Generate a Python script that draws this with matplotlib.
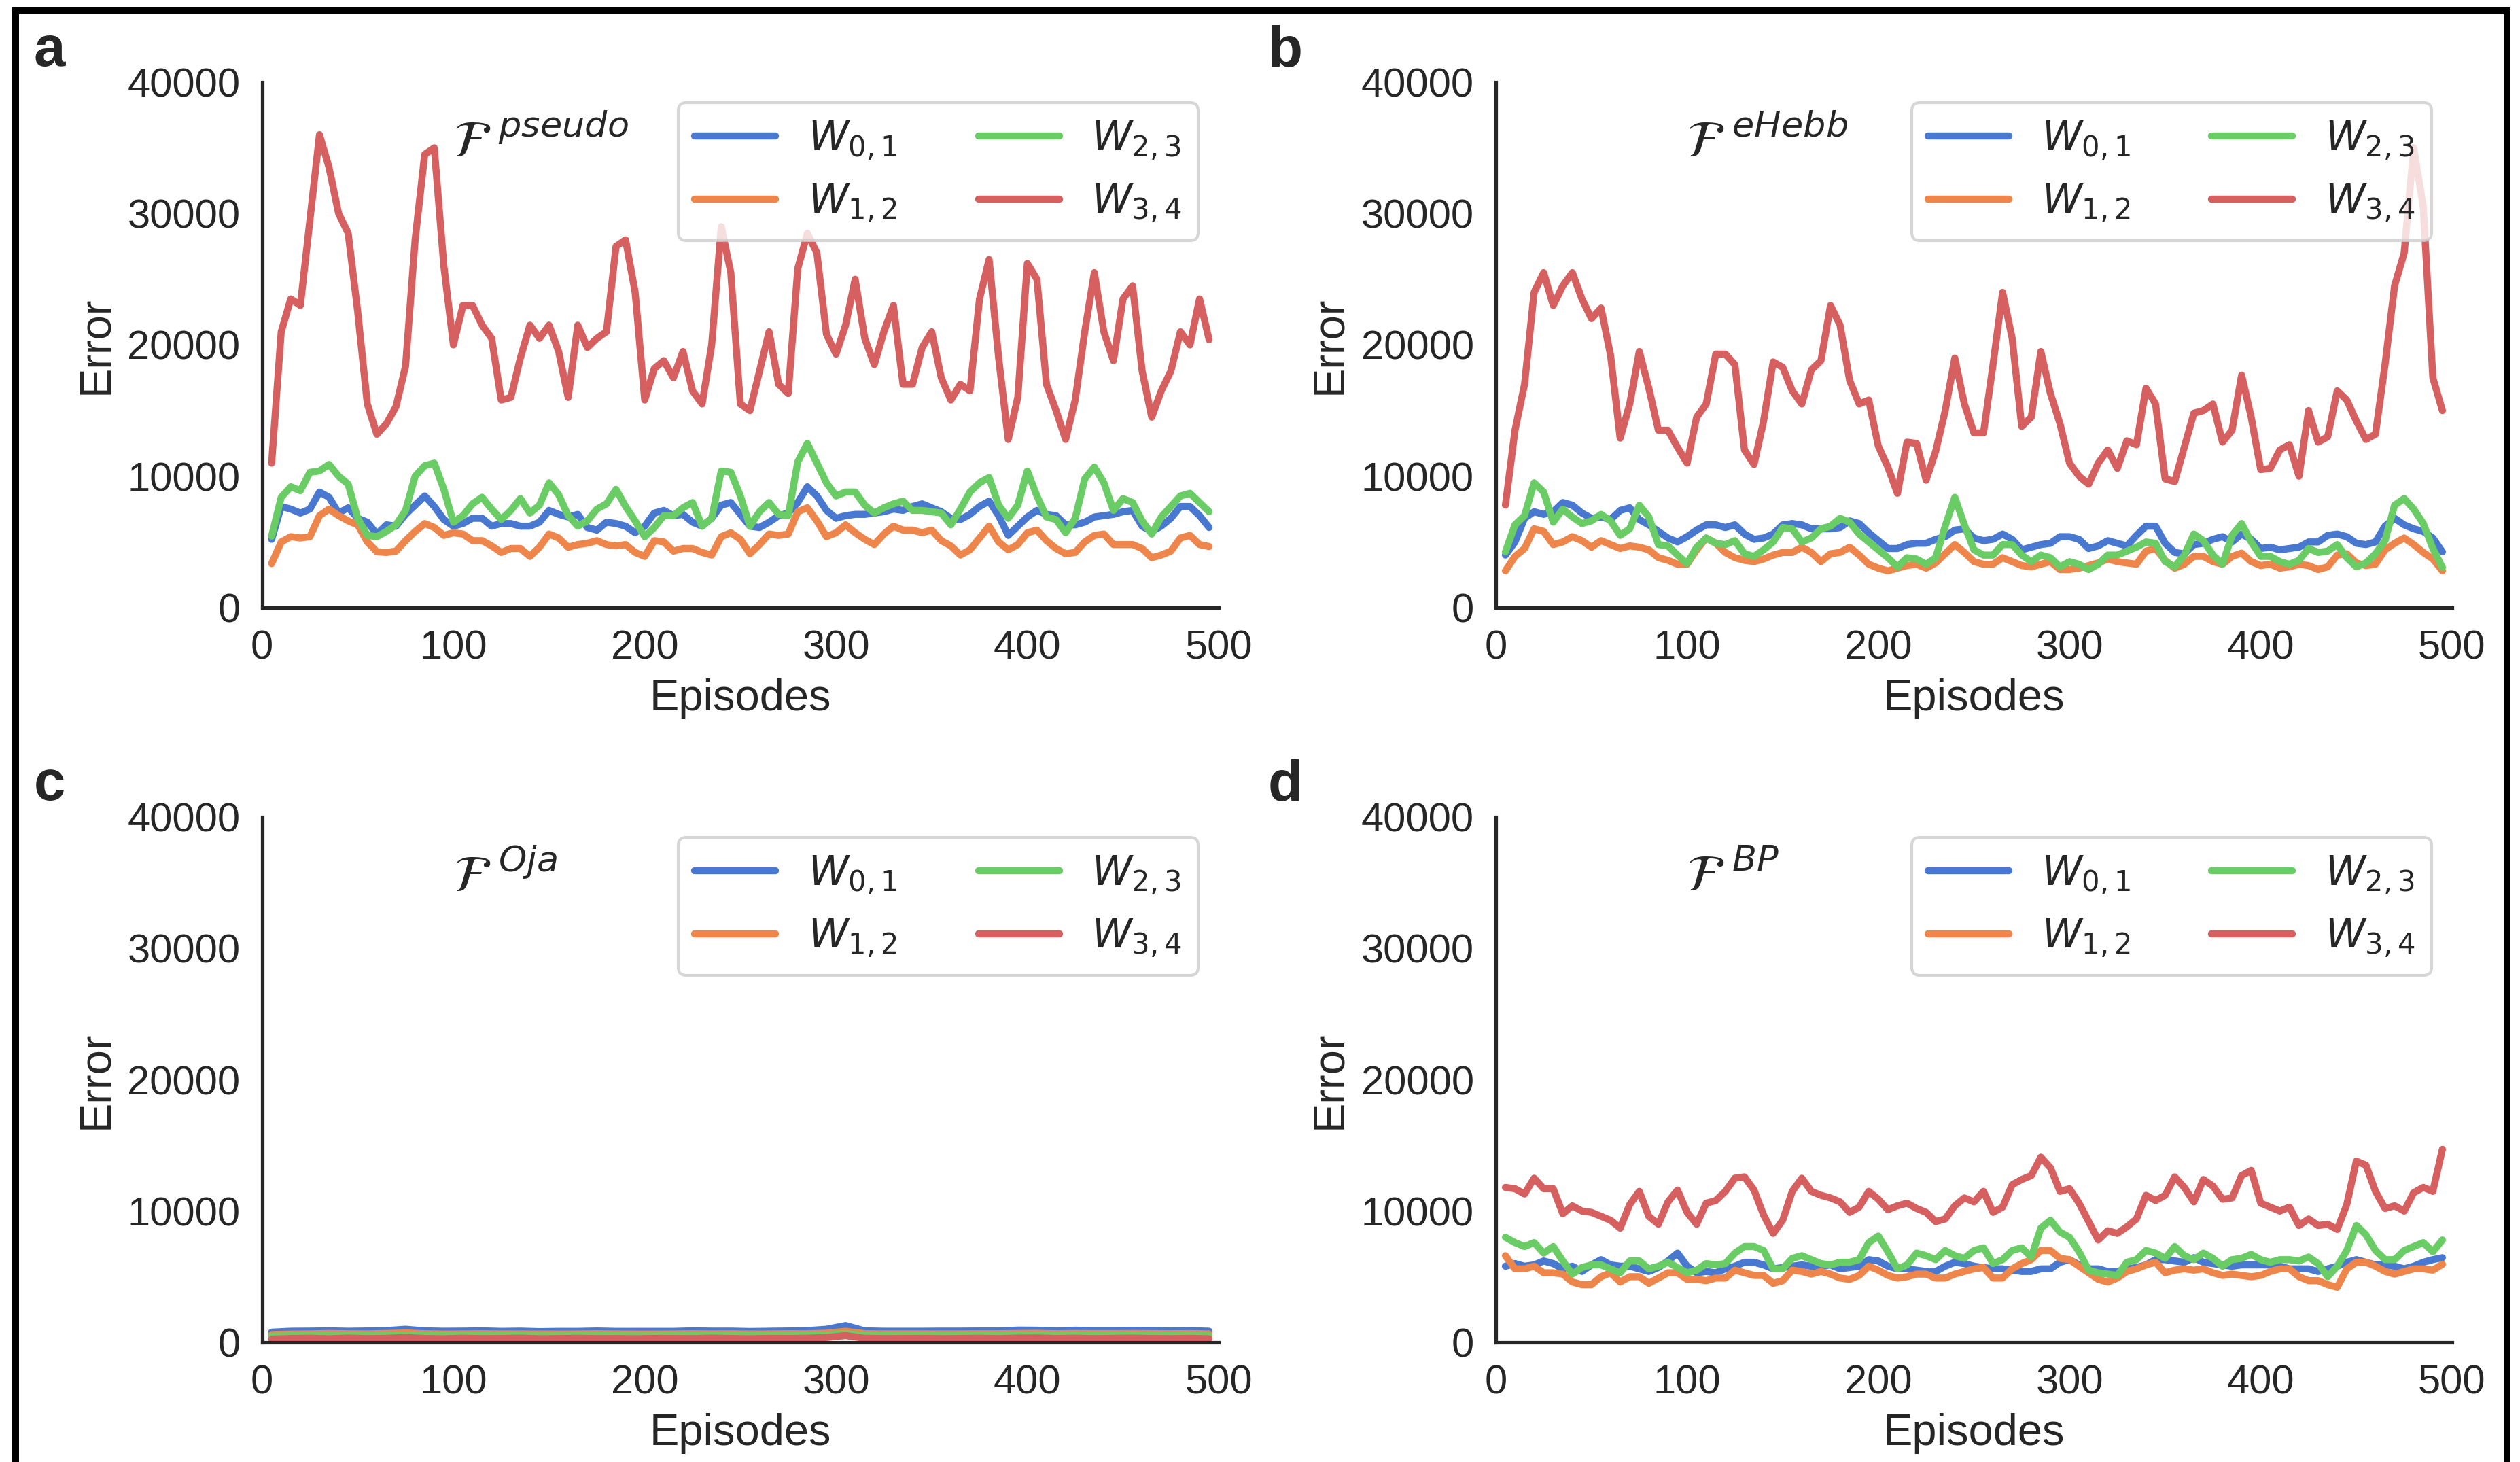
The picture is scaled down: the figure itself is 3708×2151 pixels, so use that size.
import matplotlib.pyplot as plt
import seaborn as sns
from matplotlib.patches import Rectangle

# episodes (moving-average centres)
episodes = list(range(5, 500, 5))
episodes_c = list(range(5, 500, 10))

labels = [r'$W_{0,1}$', r'$W_{1,2}$', r'$W_{2,3}$', r'$W_{3,4}$']

# --- panel a: F^pseudo
blue_a = [5200, 7700, 7500, 7200, 7500, 8800, 8400, 7200, 7600, 6800,
          6500, 5600, 6300, 6200, 7100, 7800, 8500, 7700, 6700, 6200,
          6400, 6800, 6800, 6200, 6400, 6400, 6200, 6200, 6500, 7400,
          7100, 6900, 7100, 6100, 5900, 6500, 6400, 6200, 5700, 6200,
          7200, 7400, 7000, 7100, 6500, 6200, 6800, 7800, 8000, 7100,
          6200, 6100, 6500, 7000, 7200, 8000, 9200, 8500, 7400, 6800,
          7000, 7100, 7100, 7200, 7300, 7500, 7400, 7700, 7900, 7600,
          7300, 6800, 6700, 7100, 7700, 8100, 7000, 5500, 6200, 6900,
          7400, 7100, 7000, 6300, 6300, 6500, 6900, 7000, 7100, 7300,
          7400, 6200, 5800, 6200, 6800, 7700, 7700, 7000, 6100]
orange_a = [3350, 5000, 5400, 5300, 5400, 7000, 7500, 7000, 6600, 6300,
            5000, 4250, 4200, 4300, 5100, 5800, 6400, 6100, 5500, 5700,
            5600, 5100, 5100, 4700, 4200, 4500, 4500, 3900, 4600, 5600,
            5300, 4600, 4800, 4900, 5100, 4800, 4700, 4800, 4200, 3900,
            5100, 5000, 4300, 4500, 4500, 4200, 4000, 5400, 5700, 5200,
            4100, 4800, 5600, 5500, 5600, 7300, 7600, 6600, 5400, 5700,
            6300, 5700, 5200, 4800, 5600, 6200, 5900, 5900, 5700, 5900,
            5100, 4700, 4000, 4400, 5300, 6200, 5000, 4400, 4800, 5700,
            5900, 5100, 4500, 4100, 4200, 5000, 5500, 5600, 4800, 4800,
            4800, 4500, 3800, 4000, 4300, 5300, 5500, 4800, 4650]
green_a = [5450, 8400, 9200, 8900, 10300, 10400, 10900, 10000, 9400, 6800,
           5500, 5400, 5800, 6300, 7400, 10000, 10800, 11000, 9000, 6500,
           7000, 7900, 8400, 7500, 6700, 7400, 8300, 7200, 7800, 9500,
           8600, 7000, 6200, 6600, 7500, 7900, 9000, 7700, 6600, 5400,
           6100, 7000, 7000, 7600, 8000, 6200, 6800, 10400, 10300, 8500,
           6200, 7300, 8000, 7100, 7000, 11100, 12500, 11000, 9500, 8500,
           8800, 8800, 7800, 7200, 7600, 7900, 8100, 7400, 7400, 7300,
           7200, 6300, 7500, 8800, 9500, 9900, 7800, 6800, 7800, 10400,
           8500, 6900, 6700, 5700, 6800, 9800, 10700, 9500, 7400, 8300,
           8000, 6600, 5600, 6900, 7700, 8500, 8700, 8000, 7300]
red_a = [11000, 21000, 23500, 23000, 29500, 36000, 33500, 30000, 28500, 22500,
         15500, 13200, 14000, 15300, 18400, 28000, 34500, 35000, 26000, 20000,
         23000, 23000, 21500, 20500, 15800, 16000, 19000, 21500, 20500, 21500,
         19500, 16000, 21500, 19800, 20500, 21000, 27500, 28000, 24000, 15800,
         18200, 18800, 17500, 19500, 16500, 15500, 20000, 29000, 25500, 15500,
         15000, 18000, 21000, 17000, 16300, 25800, 28500, 27000, 20800, 19300,
         21500, 25000, 20500, 18500, 21000, 23000, 17000, 17000, 19800, 21000,
         17500, 15800, 17000, 16500, 23500, 26500, 19000, 12800, 16000, 26200,
         25000, 17000, 15000, 12800, 15800, 21000, 25500, 21000, 18800, 23500,
         24500, 18000, 14500, 16500, 18000, 21000, 20000, 23500, 20400]

# --- panel b: F^eHebb
blue_b = [4000, 5000, 6800, 7300, 7100, 7300, 8000, 7800, 7200, 6800,
          6900, 6700, 7400, 7600, 6700, 6300, 5800, 5300, 5000, 5400,
          5900, 6300, 6300, 6100, 6300, 5600, 5200, 5300, 5600, 6300,
          6400, 6300, 6000, 6000, 6000, 6100, 6600, 6400, 5700, 5100,
          4500, 4500, 4800, 4900, 4900, 5200, 5400, 5900, 6000, 5300,
          5100, 5200, 5600, 5200, 4400, 4600, 4800, 4900, 5400, 5400,
          5200, 4500, 4700, 5100, 4900, 4700, 5500, 6200, 6200, 4900,
          4200, 4100, 4800, 4900, 5200, 5400, 5000, 5600, 5200, 4500,
          4600, 4400, 4500, 4600, 5000, 5000, 5500, 5600, 5400, 4900,
          4800, 5000, 6200, 6800, 6300, 6000, 5800, 5300, 4250]
orange_b = [2800, 3900, 4500, 6000, 5800, 4800, 5000, 5400, 5100, 4600,
            5100, 4800, 4500, 4700, 4600, 4400, 3800, 3600, 3300, 3300,
            4400, 5300, 4900, 4200, 3800, 3600, 3500, 3700, 4000, 4200,
            4200, 4600, 4200, 3500, 4100, 4200, 4600, 4000, 3300, 3000,
            2800, 3000, 3200, 3300, 3000, 3400, 4100, 4800, 4200, 3500,
            3300, 3300, 3800, 3500, 3200, 3100, 3300, 3500, 2900, 2900,
            3000, 3200, 3400, 3700, 3500, 3400, 3300, 4300, 4500, 3600,
            3000, 3300, 3900, 3900, 3500, 3300, 3900, 4150, 3500, 3200,
            3300, 3000, 3100, 3300, 3200, 2900, 3100, 4000, 4100, 3400,
            3200, 3300, 4400, 4900, 5300, 4800, 4200, 3700, 2800]
green_b = [4250, 6300, 7000, 9500, 8800, 6500, 7500, 6900, 6400, 6600,
           7100, 6600, 5500, 6000, 7800, 6900, 4800, 4700, 4000, 3350,
           4600, 5300, 4900, 4800, 5100, 4100, 3900, 4400, 5000, 6100,
           6000, 5000, 5300, 6000, 6200, 6800, 6500, 5600, 5000, 4400,
           3800, 3100, 3800, 3700, 3300, 3800, 6200, 8400, 6300, 4400,
           4000, 4000, 4800, 4800, 4000, 3500, 4000, 3800, 3100, 3500,
           3300, 2900, 3300, 4000, 4000, 4300, 4600, 5000, 4900, 3500,
           3100, 4000, 5600, 5100, 4000, 3300, 5500, 6400, 5000, 3900,
           3900, 3500, 3300, 3600, 4500, 4200, 4300, 4800, 3800, 3100,
           3400, 4100, 5100, 7800, 8300, 7500, 6400, 4500, 3050]
red_b = [7800, 13500, 17000, 24000, 25500, 23000, 24500, 25500, 23500, 22000,
         22800, 19200, 12900, 15500, 19500, 16700, 13500, 13500, 12200, 11000,
         14500, 15500, 19300, 19300, 18500, 12000, 10900, 14200, 18700, 18300,
         16500, 15500, 18100, 18800, 23000, 21500, 17300, 15500, 15800, 12300,
         10700, 8700, 12600, 12500, 9700, 11900, 15000, 19000, 15500, 13300,
         13300, 18500, 24000, 20500, 13800, 14500, 19500, 16300, 14000, 11000,
         10000, 9400, 11000, 12000, 10600, 12700, 12400, 16700, 15500, 9800,
         9600, 12200, 14800, 15000, 15500, 12600, 13500, 17700, 14500, 10500,
         10600, 12000, 12400, 10000, 15000, 12600, 13000, 16500, 15800, 14200,
         12800, 13200, 18500, 24500, 27000, 35000, 30500, 17500, 15000]

# --- panel c: F^Oja (sampled every 10 episodes)
blue_c = [780, 850, 860, 880, 850, 870, 900, 1000, 880, 850,
          860, 880, 840, 860, 820, 840, 840, 870, 840, 840,
          840, 840, 880, 860, 860, 830, 850, 870, 900, 1000,
          1280, 880, 850, 850, 850, 860, 860, 870, 870, 940,
          930, 880, 930, 900, 900, 920, 910, 880, 900, 850]
orange_c = [600, 640, 650, 680, 660, 650, 680, 720, 660, 640,
            650, 660, 650, 650, 640, 640, 650, 660, 650, 640,
            640, 650, 660, 650, 660, 640, 650, 660, 660, 700,
            850, 660, 650, 650, 650, 650, 650, 660, 660, 680,
            690, 660, 680, 670, 670, 680, 670, 660, 670, 650]
green_c = [480, 510, 520, 530, 520, 520, 530, 560, 520, 510,
           510, 520, 510, 510, 500, 500, 510, 520, 510, 500,
           500, 510, 520, 520, 530, 510, 510, 520, 520, 560,
           680, 520, 510, 510, 510, 510, 510, 520, 520, 540,
           540, 520, 530, 520, 520, 530, 520, 510, 520, 500]
red_c = [250, 300, 320, 280, 330, 290, 310, 380, 300, 280,
         320, 290, 300, 330, 280, 300, 320, 290, 300, 280,
         310, 300, 290, 330, 300, 280, 310, 300, 320, 380,
         520, 320, 290, 300, 310, 290, 300, 320, 290, 330,
         340, 300, 320, 290, 310, 330, 300, 290, 310, 280]

# --- panel d: F^BP
blue_d = [5800, 6000, 5800, 5900, 6200, 6000, 5600, 5800, 5400, 5900,
          6300, 5900, 5800, 5800, 5600, 5400, 5700, 6200, 6800, 5800,
          5300, 5400, 5300, 5600, 5800, 6100, 6100, 5900, 5600, 5700,
          5800, 5900, 5800, 5800, 5900, 5600, 5700, 5800, 6300, 6200,
          5800, 5600, 5600, 5500, 5400, 5400, 5800, 6100, 6000, 5800,
          5700, 5600, 5600, 5500, 5400, 5400, 5600, 5600, 6100, 6300,
          5900, 5600, 5600, 5400, 5400, 5600, 5700, 5900, 6300, 6300,
          6200, 6100, 6450, 6100, 6000, 5900, 5800, 5900, 5900, 5900,
          5900, 5800, 5600, 5600, 5600, 5400, 5600, 5800, 6100, 6300,
          6100, 5900, 5900, 5800, 5600, 5800, 6100, 6300, 6450]
orange_d = [6600, 5600, 5600, 5800, 5300, 5300, 5200, 4600, 4400, 4400,
            5000, 5300, 4600, 5000, 5000, 4500, 4900, 5300, 5300, 4800,
            4800, 4700, 4900, 4900, 5500, 5300, 5100, 5100, 4500, 4700,
            5500, 5400, 5200, 5400, 5200, 4900, 4800, 5100, 5800, 5500,
            5100, 4900, 5000, 5200, 5200, 4900, 4900, 5200, 5400, 5600,
            5700, 4900, 4900, 5600, 6000, 6300, 7000, 7000, 6400, 6300,
            5800, 5300, 4800, 4600, 4900, 5400, 5600, 5900, 6100, 5300,
            5500, 5600, 5500, 5600, 5300, 5100, 5200, 5100, 5000, 5100,
            5400, 5600, 5600, 5000, 4700, 4700, 4400, 4200, 5600, 6100,
            6100, 5800, 5400, 5200, 5400, 5600, 5600, 5500, 5950]
green_d = [8000, 7600, 7300, 7600, 6800, 7300, 6200, 5200, 5700, 5900,
           5900, 5600, 5300, 6200, 6200, 5600, 5800, 6100, 5700, 5300,
           5500, 6000, 5900, 6000, 6800, 7300, 7300, 7000, 5600, 5600,
           6400, 6600, 6300, 6000, 5900, 6100, 6100, 6300, 7600, 8100,
           6900, 5600, 5900, 6800, 6600, 6300, 7000, 6600, 6400, 7000,
           7200, 6000, 6300, 7000, 7200, 6500, 8700, 9300, 8400, 8000,
           6900, 5500, 5300, 5200, 5100, 6100, 6300, 7000, 6800, 6400,
           7300, 6600, 6300, 6800, 6400, 5800, 6300, 6400, 6700, 6300,
           6100, 6300, 6300, 6200, 6500, 6000, 5000, 5800, 7000, 8900,
           8200, 7000, 6300, 6300, 7000, 7300, 7600, 6900, 7800]
red_d = [11800, 11700, 11300, 12500, 11700, 11700, 9800, 10400, 10000, 9900,
         9600, 9300, 8700, 10500, 11500, 9600, 9000, 10700, 11600, 9900,
         9000, 10600, 10800, 11500, 12500, 12600, 11600, 9700, 8300, 9300,
         11500, 12500, 11500, 11200, 11000, 10700, 9900, 10300, 11500, 10900,
         10100, 10400, 10600, 10200, 9900, 9200, 9400, 10400, 11000, 10700,
         11500, 9900, 10300, 12000, 12400, 12700, 14100, 13300, 11500, 11700,
         10600, 9200, 7800, 8500, 8300, 8800, 9400, 11200, 10800, 11200,
         12600, 11800, 10700, 12400, 11900, 10900, 11000, 12700, 13100, 10600,
         10300, 10000, 10300, 8900, 9400, 8900, 9000, 8600, 10500, 13800,
         13500, 11500, 10200, 10400, 10000, 11400, 11800, 11500, 14700]

sns.set_theme(style='white', palette='muted', font_scale=1.3)
plt.rcParams['font.family'] = ['Liberation Sans', 'DejaVu Sans']

fig = plt.figure(figsize=(12.36, 7.17), dpi=300)

panels = [
    ('a', 'pseudo', [0.1040, 0.5844, 0.3796, 0.3594], (0.0197, 0.965),
     episodes, [blue_a, orange_a, green_a, red_a]),
    ('b', 'eHebb', [0.5936, 0.5844, 0.3794, 0.3594], (0.5100, 0.965),
     episodes, [blue_b, orange_b, green_b, red_b]),
    ('c', 'Oja', [0.1040, 0.0818, 0.3796, 0.3594], (0.0197, 0.463),
     episodes_c, [blue_c, orange_c, green_c, red_c]),
    ('d', 'BP', [0.5936, 0.0818, 0.3794, 0.3594], (0.5100, 0.463),
     episodes, [blue_d, orange_d, green_d, red_d]),
]

for letter, rule, rect, lpos, x, series in panels:
    ax = fig.add_axes(rect)
    for vals, lab in zip(series, labels):
        ax.plot(x, vals, lw=2.5, label=lab)
    ax.set_xlim(0, 500)
    ax.set_ylim(0, 40000)
    ax.set_xticks(range(0, 501, 100))
    ax.set_yticks(range(0, 40001, 10000))
    ax.tick_params(length=0, pad=7.7)
    ax.set_xlabel('Episodes')
    ax.set_ylabel('Error')
    sns.despine(ax=ax)
    ax.legend(loc='upper right', ncol=2)
    ax.text(0.2, 0.885, r'$\mathcal{F}^{\ %s}$' % rule, transform=ax.transAxes,
            fontsize=18, va='center', ha='left')
    fig.text(lpos[0], lpos[1], letter, fontsize=20, fontweight='bold',
             ha='center', va='center')

# black frame around the whole figure (bottom edge lies outside the image)
fig.add_artist(Rectangle((0.0061, -0.05), 0.9888, 1.0426, transform=fig.transFigure,
                         fill=False, lw=2.4, edgecolor='black', clip_on=False))

fig.savefig('out.png', dpi=300)
